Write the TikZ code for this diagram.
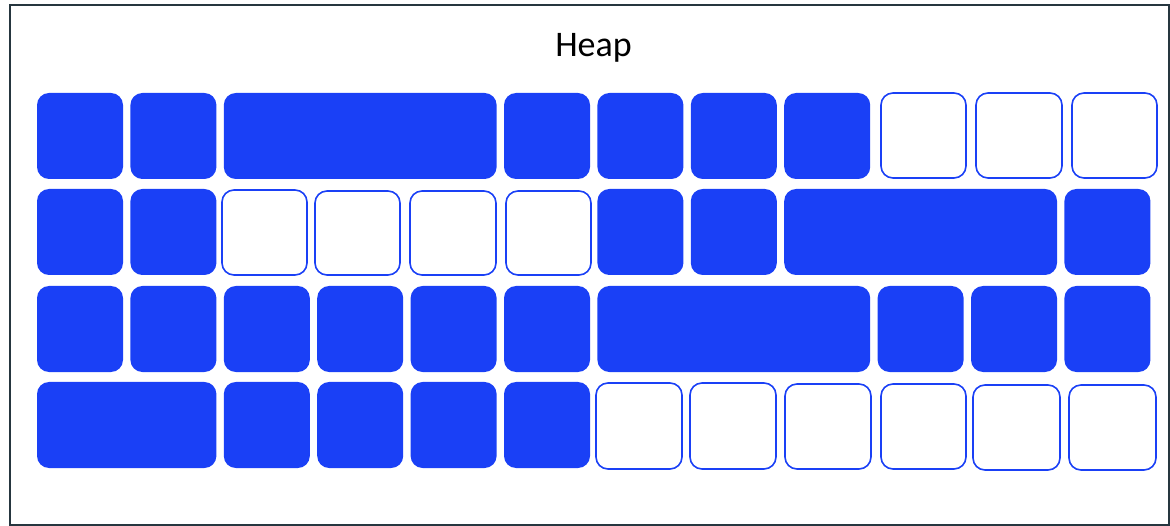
\documentclass[tikz,border=0pt]{standalone}
\usepackage{fontspec}
\setmainfont{Carlito}
\definecolor{cellblue}{HTML}{1A40F6}
\definecolor{frame}{HTML}{26363F}
\tikzset{
  cellbase/.style={rounded corners=12bp, inner sep=0pt, outer sep=0pt, anchor=north west},
  fullcell/.style={cellbase, fill=cellblue, draw=none},
  freecell/.style={cellbase, draw=cellblue, line width=1.6bp, fill=white},
}
\newcommand\fcell[4]{\node[fullcell, minimum width=#4bp, minimum height=86bp] (#1) at (#2,#3) {};}
\newcommand\ecell[5]{\node[freecell, minimum width=#4bp, minimum height=#5bp] (#1) at (#2,#3) {};}
\begin{document}
\begin{tikzpicture}[x=1bp,y=-1bp]
\useasboundingbox (0,0) rectangle (1170,526);
\node[draw=frame, line width=1.8bp, minimum width=1159bp, minimum height=520bp, anchor=north west, inner sep=0pt] (frame) at (9,4) {};
\node[anchor=base, font=\fontsize{36bp}{40bp}\selectfont] (title) at (593.5,57) {Heap};
% row 1
\fcell{a1}{37}{93}{86}
\fcell{a2}{130.4}{93}{86}
\fcell{a3}{223.8}{93}{272.8}
\fcell{a6}{504}{93}{86}
\fcell{a7}{597.4}{93}{86}
\fcell{a8}{690.8}{93}{86}
\fcell{a9}{784.2}{93}{86}
\ecell{a10}{881}{93}{85}{85}
\ecell{a11}{976}{93}{86}{85}
\ecell{a12}{1072}{93}{85}{85}
% row 2
\fcell{b1}{37}{189}{86}
\fcell{b2}{130.4}{189}{86}
\ecell{b3}{222}{190}{85}{85}
\ecell{b4}{315}{191}{85}{84}
\ecell{b5}{410}{191}{86}{84}
\ecell{b6}{506}{191}{85}{84}
\fcell{b7}{597.4}{189}{86}
\fcell{b8}{690.8}{189}{86}
\fcell{b9}{784.2}{189}{272.8}
\fcell{b12}{1064.4}{189}{86}
% row 3
\fcell{c1}{37}{286}{86}
\fcell{c2}{130.4}{286}{86}
\fcell{c3}{223.8}{286}{86}
\fcell{c4}{317.2}{286}{86}
\fcell{c5}{410.6}{286}{86}
\fcell{c6}{504}{286}{86}
\fcell{c7}{597.4}{286}{272.8}
\fcell{c10}{877.6}{286}{86}
\fcell{c11}{971}{286}{86}
\fcell{c12}{1064.4}{286}{86}
% row 4
\fcell{d1}{37}{382}{179.4}
\fcell{d3}{223.8}{382}{86}
\fcell{d4}{317.2}{382}{86}
\fcell{d5}{410.6}{382}{86}
\fcell{d6}{504}{382}{86}
\ecell{d7}{596}{383}{86}{86}
\ecell{d8}{690}{383}{86}{86}
\ecell{d9}{785}{384}{86}{85}
\ecell{d10}{881}{384}{85}{85}
\ecell{d11}{973}{385}{87}{85}
\ecell{d12}{1069}{385}{87}{85}
\end{tikzpicture}
\end{document}
